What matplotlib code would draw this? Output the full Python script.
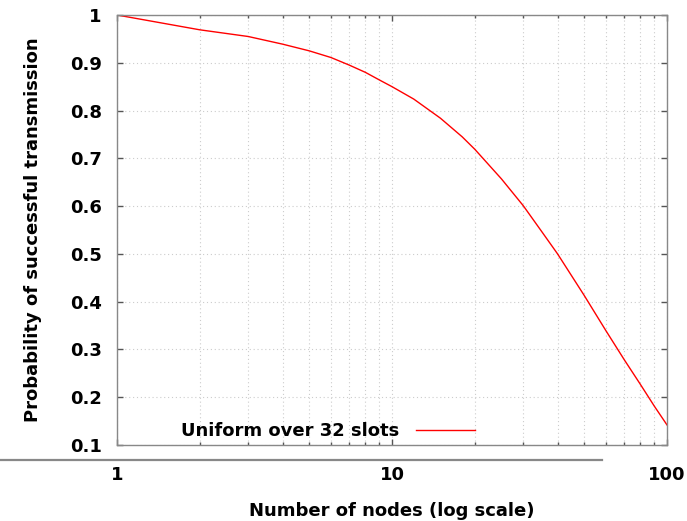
import matplotlib
matplotlib.use('Agg')
import matplotlib.pyplot as plt
from matplotlib.lines import Line2D
from matplotlib.ticker import LogLocator, NullFormatter, FixedLocator

# success probability vs. number of contending nodes
nodes = [1, 2, 3, 4, 5, 6, 7, 8, 9, 10, 12, 15, 18, 20, 25, 30, 35,
         40, 50, 60, 70, 80, 90, 100]
p_success = [1.0, 0.969, 0.955, 0.939, 0.925, 0.911, 0.895, 0.880, 0.864,
             0.850, 0.824, 0.784, 0.745, 0.719, 0.657, 0.601, 0.547,
             0.500, 0.413, 0.339, 0.278, 0.227, 0.181, 0.142]
series_label = 'Uniform over 32 slots'

yticks = [0.1, 0.2, 0.3, 0.4, 0.5, 0.6, 0.7, 0.8, 0.9, 1.0]
ytick_labels = ['0.1', '0.2', '0.3', '0.4', '0.5', '0.6', '0.7', '0.8', '0.9', '1']
xticks = [1, 10, 100]
xtick_labels = ['1', '10', '100']

plt.rcParams['font.family'] = ['DejaVu Sans']
plt.rcParams['font.weight'] = 'bold'
fs = 13
gray = '#888888'

fig = plt.figure(figsize=(6.87, 5.21), dpi=100)
ax = fig.add_axes([117 / 687, 1 - 445 / 521, 550 / 687, 430 / 521])

ax.plot(nodes, p_success, color='red', lw=1.0, label=series_label)

ax.set_xscale('log')
ax.set_xlim(1, 100)
ax.set_ylim(0.1, 1.0)

ax.xaxis.set_major_locator(FixedLocator(xticks))
ax.set_xticklabels(xtick_labels, fontsize=fs, fontweight='bold')
ax.xaxis.set_minor_locator(LogLocator(base=10, subs=range(2, 10)))
ax.xaxis.set_minor_formatter(NullFormatter())
ax.set_yticks(yticks)
ax.set_yticklabels(ytick_labels, fontsize=fs, fontweight='bold')

ax.grid(True, which='major', color='#cccccc', ls=(0, (1, 2.5)), lw=0.8)
ax.grid(True, which='minor', axis='x', color='#cccccc', ls=(0, (1, 2.5)), lw=0.8)

ax.tick_params(which='both', direction='in', top=True, right=True,
               color='#555555', width=1.0)
ax.tick_params(which='major', length=4)
ax.tick_params(which='minor', length=2)
ax.tick_params(axis='x', which='major', pad=15)
ax.tick_params(axis='y', which='major', pad=11)

for s in ax.spines.values():
    s.set_color(gray)
    s.set_linewidth(1.0)

ax.set_ylabel('Probability of successful transmission', fontsize=fs,
              fontweight='bold', labelpad=20)
ax.set_xlabel('Number of nodes (log scale)', fontsize=fs,
              fontweight='bold', labelpad=13)

ax.legend(loc='center', bbox_to_anchor=(0.384, 0.032), frameon=False,
          markerfirst=False, handlelength=3.3, handletextpad=0.9,
          borderpad=0, borderaxespad=0,
          prop={'size': fs, 'weight': 'bold'})

# separator rule under the plot area
fig.add_artist(Line2D([0, 602 / 687], [1 - 460 / 521, 1 - 460 / 521],
                      transform=fig.transFigure, color=gray, lw=1.6))

fig.savefig('out.png', dpi=100)
